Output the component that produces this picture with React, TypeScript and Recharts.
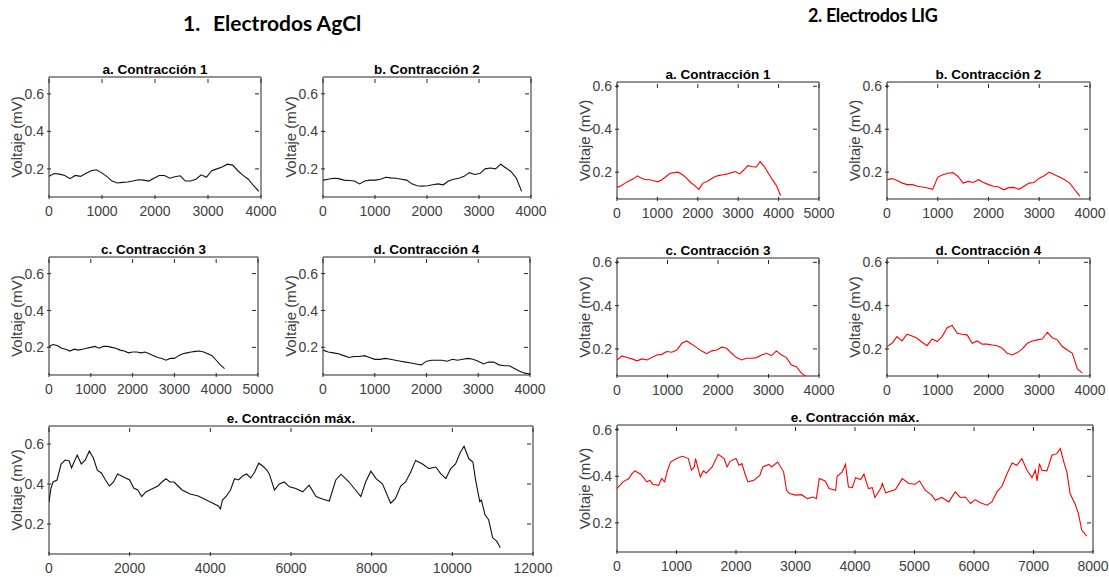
import { Line, LineChart, ReferenceArea, XAxis, YAxis } from "recharts";

// EMG amplitude traces (mV) at ~100-sample steps
const agclC1 = [0.16, 0.175, 0.172, 0.165, 0.148, 0.165, 0.16, 0.175, 0.19, 0.195, 0.18, 0.16, 0.135, 0.125, 0.128, 0.13, 0.135, 0.142, 0.14, 0.135, 0.15, 0.165, 0.165, 0.15, 0.158, 0.163, 0.135, 0.135, 0.145, 0.168, 0.155, 0.19, 0.2, 0.21, 0.225, 0.22, 0.19, 0.165, 0.145, 0.11, 0.08];
const agclC1End = 3960;
const agclC2 = [0.14, 0.145, 0.15, 0.148, 0.14, 0.138, 0.135, 0.12, 0.135, 0.14, 0.14, 0.145, 0.155, 0.152, 0.15, 0.145, 0.14, 0.12, 0.11, 0.108, 0.11, 0.115, 0.12, 0.115, 0.135, 0.145, 0.15, 0.16, 0.18, 0.17, 0.175, 0.2, 0.205, 0.2, 0.225, 0.205, 0.185, 0.15, 0.08];
const agclC2End = 3820;
const agclC3 = [0.205, 0.215, 0.21, 0.195, 0.19, 0.18, 0.19, 0.185, 0.19, 0.195, 0.2, 0.205, 0.195, 0.205, 0.205, 0.2, 0.195, 0.185, 0.18, 0.17, 0.175, 0.175, 0.17, 0.175, 0.165, 0.155, 0.145, 0.14, 0.13, 0.14, 0.14, 0.155, 0.165, 0.17, 0.175, 0.178, 0.18, 0.175, 0.165, 0.155, 0.13, 0.105, 0.085];
const agclC3End = 4200;
const agclC4 = [0.185, 0.175, 0.17, 0.165, 0.155, 0.145, 0.15, 0.15, 0.155, 0.145, 0.135, 0.135, 0.14, 0.135, 0.13, 0.125, 0.12, 0.115, 0.11, 0.105, 0.125, 0.13, 0.13, 0.13, 0.125, 0.135, 0.13, 0.135, 0.14, 0.135, 0.125, 0.11, 0.12, 0.12, 0.105, 0.1, 0.1, 0.085, 0.07, 0.06, 0.055];
const agclC4End = 4000;

// max-contraction traces: sample index and amplitude read at irregular positions
const agclMaxSamples = [
  0, 50, 100, 200, 300, 400, 500, 560, 600, 700, 800, 900, 1000, 1100, 1200, 1300, 1400, 1500, 1600, 1700,
  1800, 1900, 2000, 2100, 2200, 2300, 2400, 2500, 2600, 2700, 2800, 2900, 3000, 3100, 3200, 3300, 3400, 3500, 3600, 3700,
  3800, 3900, 4000, 4100, 4200, 4250, 4300, 4400, 4500, 4600, 4700, 4800, 4900, 5000, 5100, 5200, 5300, 5400, 5464, 5590,
  5710, 5835, 5960, 6120, 6290, 6450, 6620, 6780, 6950, 7110, 7240, 7440, 7600, 7730, 7850, 7980, 8110, 8270, 8470, 8590,
  8720, 8840, 8970, 9090, 9260, 9420, 9590, 9710, 9840, 9960, 10080, 10200, 10290, 10410, 10510, 10570, 10680, 10720, 10810, 10900,
  11000, 11100, 11190,
];
const agclMax = [
  0.31, 0.38, 0.41, 0.42, 0.5, 0.52, 0.515, 0.48, 0.5, 0.545, 0.5, 0.52, 0.565, 0.53, 0.468, 0.455, 0.42, 0.39, 0.41, 0.45,
  0.44, 0.43, 0.42, 0.38, 0.37, 0.337, 0.36, 0.37, 0.38, 0.39, 0.41, 0.426, 0.41, 0.41, 0.39, 0.37, 0.36, 0.35, 0.345, 0.34,
  0.33, 0.32, 0.31, 0.3, 0.29, 0.275, 0.32, 0.34, 0.37, 0.426, 0.42, 0.44, 0.45, 0.43, 0.46, 0.504, 0.49, 0.47, 0.449, 0.37,
  0.4, 0.41, 0.386, 0.378, 0.361, 0.394, 0.337, 0.325, 0.315, 0.42, 0.449, 0.41, 0.37, 0.337, 0.41, 0.464, 0.427, 0.4, 0.304, 0.328,
  0.39, 0.41, 0.46, 0.518, 0.5, 0.477, 0.485, 0.452, 0.427, 0.477, 0.5, 0.559, 0.589, 0.526, 0.51, 0.427, 0.312, 0.32, 0.246, 0.221,
  0.131, 0.114, 0.081,
];

const ligC1 = [0.129, 0.137, 0.149, 0.16, 0.169, 0.183, 0.172, 0.165, 0.165, 0.16, 0.155, 0.165, 0.18, 0.195, 0.198, 0.2, 0.188, 0.172, 0.152, 0.137, 0.12, 0.149, 0.157, 0.168, 0.18, 0.185, 0.188, 0.192, 0.198, 0.203, 0.192, 0.21, 0.23, 0.226, 0.223, 0.249, 0.226, 0.195, 0.165, 0.137, 0.09];
const ligC1End = 4050;
const ligC2 = [0.165, 0.17, 0.161, 0.149, 0.142, 0.142, 0.134, 0.131, 0.126, 0.12, 0.177, 0.188, 0.195, 0.198, 0.18, 0.149, 0.157, 0.152, 0.165, 0.152, 0.142, 0.134, 0.131, 0.118, 0.128, 0.129, 0.12, 0.134, 0.149, 0.152, 0.172, 0.183, 0.2, 0.188, 0.177, 0.165, 0.149, 0.118, 0.088];
const ligC2End = 3800;
const ligC3 = [0.149, 0.168, 0.16, 0.154, 0.145, 0.154, 0.149, 0.16, 0.172, 0.175, 0.188, 0.185, 0.195, 0.226, 0.237, 0.222, 0.206, 0.19, 0.178, 0.191, 0.195, 0.208, 0.203, 0.18, 0.16, 0.149, 0.157, 0.157, 0.16, 0.172, 0.18, 0.169, 0.191, 0.172, 0.16, 0.126, 0.118, 0.088, 0.072];
const ligC3End = 3750;
const ligC4 = [0.211, 0.226, 0.257, 0.237, 0.268, 0.26, 0.249, 0.231, 0.215, 0.246, 0.234, 0.257, 0.298, 0.308, 0.272, 0.268, 0.265, 0.226, 0.237, 0.222, 0.222, 0.218, 0.215, 0.203, 0.18, 0.172, 0.183, 0.2, 0.226, 0.237, 0.242, 0.246, 0.277, 0.252, 0.242, 0.211, 0.195, 0.18, 0.108, 0.088];
const ligC4End = 3850;

const ligMaxSamples = [
  0, 100, 200, 250, 300, 400, 500, 550, 600, 700, 750, 800, 850, 900, 1000, 1100, 1200, 1250, 1300, 1320,
  1400, 1450, 1500, 1600, 1700, 1800, 1850, 1900, 2000, 2050, 2100, 2150, 2200, 2300, 2400, 2450, 2550, 2600, 2700, 2800,
  2850, 2900, 3000, 3100, 3200, 3300, 3350, 3400, 3500, 3564, 3675, 3700, 3785, 3840, 3890, 3955, 4010, 4095, 4150, 4225,
  4290, 4335, 4430, 4460, 4515, 4680, 4795, 4905, 5010, 5085, 5180, 5290, 5350, 5460, 5575, 5685, 5770, 5855, 5940, 6020,
  6105, 6220, 6300, 6385, 6470, 6555, 6640, 6720, 6805, 6890, 6975, 7030, 7060, 7100, 7140, 7225, 7310, 7390, 7450, 7510,
  7560, 7615, 7700, 7755, 7810, 7895,
];
const ligMax = [
  0.347, 0.376, 0.39, 0.41, 0.423, 0.409, 0.376, 0.383, 0.366, 0.361, 0.39, 0.376, 0.426, 0.461, 0.476, 0.486, 0.476, 0.426, 0.44, 0.476,
  0.397, 0.423, 0.414, 0.44, 0.494, 0.476, 0.44, 0.464, 0.476, 0.447, 0.454, 0.411, 0.376, 0.383, 0.404, 0.44, 0.451, 0.44, 0.461, 0.419,
  0.34, 0.326, 0.319, 0.321, 0.304, 0.311, 0.304, 0.39, 0.38, 0.347, 0.34, 0.4, 0.419, 0.451, 0.354, 0.351, 0.394, 0.386, 0.409, 0.347,
  0.351, 0.309, 0.347, 0.369, 0.329, 0.343, 0.39, 0.369, 0.366, 0.38, 0.34, 0.319, 0.297, 0.309, 0.29, 0.333, 0.309, 0.311, 0.283, 0.3,
  0.286, 0.276, 0.29, 0.333, 0.357, 0.411, 0.457, 0.447, 0.476, 0.426, 0.394, 0.426, 0.38, 0.454, 0.426, 0.423, 0.49, 0.497, 0.519, 0.461,
  0.419, 0.326, 0.28, 0.24, 0.169, 0.143,
];

const ticks4000 = [0, 1000, 2000, 3000, 4000];
const ticks5000 = [0, 1000, 2000, 3000, 4000, 5000];
const ticks8000 = [0, 1000, 2000, 3000, 4000, 5000, 6000, 7000, 8000];
const ticks12000 = [0, 2000, 4000, 6000, 8000, 10000, 12000];
const voltTicks = [0.2, 0.4, 0.6];

const SANS = "'Liberation Sans', Arial, sans-serif";
const GREY = "#404040";
const FRAME = "#262626";
const BLACK_TRACE = "#111111";
const RED_TRACE = "#ff0000";

const PAD_L = 48;
const PAD_T = 10;
const PAD_R = 26;
const PAD_B = 26;

type Point = { t: number; v: number };

type PanelDef = {
  title: string;
  data: Point[];
  color: string;
  xMax: number;
  xTicks: number[];
  yDomain: [number, number];
  box: [number, number, number, number];
};

const evenly = (values: number[], end: number): Point[] =>
  values.map((v, i) => ({ t: (i * end) / (values.length - 1), v }));
const paired = (samples: number[], values: number[]): Point[] =>
  values.map((v, i) => ({ t: samples[i], v }));

const agclY: [number, number] = [0.05, 0.69];
const ligY: [number, number] = [0.075, 0.62];

const panels: PanelDef[] = [
  { title: "a. Contracción 1", data: evenly(agclC1, agclC1End), color: BLACK_TRACE, xMax: 4000, xTicks: ticks4000, yDomain: agclY, box: [49, 77, 261, 197] },
  { title: "b. Contracción 2", data: evenly(agclC2, agclC2End), color: BLACK_TRACE, xMax: 4000, xTicks: ticks4000, yDomain: agclY, box: [323, 77, 531, 197] },
  { title: "c. Contracción 3", data: evenly(agclC3, agclC3End), color: BLACK_TRACE, xMax: 5000, xTicks: ticks5000, yDomain: agclY, box: [49, 257, 258, 375] },
  { title: "d. Contracción 4", data: evenly(agclC4, agclC4End), color: BLACK_TRACE, xMax: 4000, xTicks: ticks4000, yDomain: agclY, box: [323, 257, 530, 375] },
  { title: "e. Contracción máx.", data: paired(agclMaxSamples, agclMax), color: BLACK_TRACE, xMax: 12000, xTicks: ticks12000, yDomain: agclY, box: [49, 426, 533, 554] },
  { title: "a. Contracción 1", data: evenly(ligC1, ligC1End), color: RED_TRACE, xMax: 5000, xTicks: ticks5000, yDomain: ligY, box: [617, 82, 819, 199] },
  { title: "b. Contracción 2", data: evenly(ligC2, ligC2End), color: RED_TRACE, xMax: 4000, xTicks: ticks4000, yDomain: ligY, box: [887, 82, 1090, 199] },
  { title: "c. Contracción 3", data: evenly(ligC3, ligC3End), color: RED_TRACE, xMax: 4000, xTicks: ticks4000, yDomain: ligY, box: [617, 258, 819, 376] },
  { title: "d. Contracción 4", data: evenly(ligC4, ligC4End), color: RED_TRACE, xMax: 4000, xTicks: ticks4000, yDomain: ligY, box: [887, 258, 1090, 376] },
  { title: "e. Contracción máx.", data: paired(ligMaxSamples, ligMax), color: RED_TRACE, xMax: 8000, xTicks: ticks8000, yDomain: ligY, box: [617, 425, 1093, 552] },
];

function Panel({ p }: { p: PanelDef }) {
  const [left, top, right, bottom] = p.box;
  const w = right - left;
  const h = bottom - top;

  const xTick = (props: any) => (
    <g>
      <line x1={props.x} x2={props.x} y1={props.y} y2={props.y - 4} stroke={FRAME} />
      <line x1={props.x} x2={props.x} y1={props.y - h} y2={props.y - h + 4} stroke={FRAME} />
      <text x={props.x} y={props.y + 17} textAnchor="middle" fontSize={14} fill={GREY} fontFamily={SANS}>
        {props.payload.value}
      </text>
    </g>
  );
  const yTick = (props: any) => (
    <g>
      <line x1={props.x} x2={props.x + 4} y1={props.y} y2={props.y} stroke={FRAME} />
      <line x1={props.x + w} x2={props.x + w - 4} y1={props.y} y2={props.y} stroke={FRAME} />
      <text x={props.x - 3} y={props.y} dy="0.36em" textAnchor="end" fontSize={14} fill={GREY} fontFamily={SANS}>
        {props.payload.value}
      </text>
    </g>
  );

  return (
    <div style={{ position: "absolute", left: left - PAD_L, top: top - PAD_T }}>
      <LineChart
        width={w + PAD_L + PAD_R}
        height={h + PAD_T + PAD_B}
        data={p.data}
        margin={{ top: PAD_T, right: PAD_R, left: 0, bottom: 0 }}
      >
        <XAxis
          dataKey="t"
          type="number"
          domain={[0, p.xMax]}
          ticks={p.xTicks}
          interval={0}
          height={PAD_B}
          axisLine={false}
          tickLine={false}
          tickSize={0}
          tick={xTick}
          allowDataOverflow
        />
        <YAxis
          type="number"
          domain={p.yDomain}
          ticks={voltTicks}
          interval={0}
          width={PAD_L}
          axisLine={false}
          tickLine={false}
          tickSize={0}
          tick={yTick}
          allowDataOverflow
        />
        <ReferenceArea
          x1={0}
          x2={p.xMax}
          y1={p.yDomain[0]}
          y2={p.yDomain[1]}
          fill="none"
          fillOpacity={0}
          stroke={FRAME}
          strokeWidth={1}
        />
        <Line
          type="linear"
          dataKey="v"
          stroke={p.color}
          strokeWidth={1.1}
          dot={false}
          isAnimationActive={false}
        />
      </LineChart>
    </div>
  );
}

export default function App() {
  return (
    <div
      style={{
        position: "absolute",
        left: 0,
        top: 0,
        width: 1109,
        height: 577,
        background: "#ffffff",
        overflow: "hidden",
      }}
    >
      {panels.map((p, i) => (
        <Panel key={i} p={p} />
      ))}
      <svg width={1109} height={577} style={{ position: "absolute", left: 0, top: 0, pointerEvents: "none" }}>
        <text x={183} y={31} fontFamily="Lato" fontWeight={700} fontSize={21} fill="#000">
          1.
        </text>
        <text x={213} y={31} fontFamily="Lato" fontWeight={700} fontSize={21} fill="#000">
          Electrodos AgCl
        </text>
        <text x={808} y={22} fontFamily="Lato" fontWeight={700} fontSize={18} letterSpacing={-0.4} fill="#000">
          2. Electrodos LIG
        </text>
        {panels.map((p, i) => {
          const [left, top, right, bottom] = p.box;
          const cx = (left + right) / 2;
          const cy = (top + bottom) / 2;
          const lx = left - 32;
          return (
            <g key={i}>
              <text x={cx} y={top - 3} textAnchor="middle" fontFamily={SANS} fontWeight={700} fontSize={13.5} fill="#000">
                {p.title}
              </text>
              <text
                x={lx}
                y={cy}
                transform={`rotate(-90 ${lx} ${cy})`}
                textAnchor="middle"
                dy="0.35em"
                fontFamily={SANS}
                fontSize={15}
                fill={GREY}
              >
                Voltaje (mV)
              </text>
            </g>
          );
        })}
      </svg>
    </div>
  );
}
